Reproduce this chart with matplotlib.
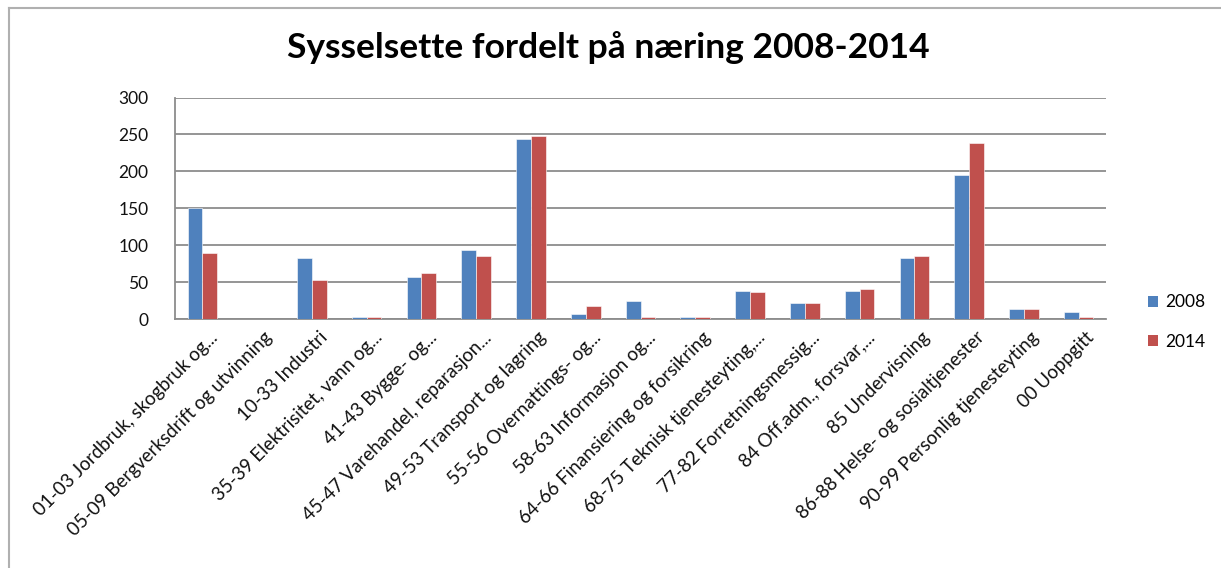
import matplotlib
matplotlib.use("Agg")
import matplotlib.pyplot as plt
import numpy as np
from matplotlib.lines import Line2D
from matplotlib.patches import Patch

categories = [
    "01-03 Jordbruk, skogbruk og...",
    "05-09 Bergverksdrift og utvinning",
    "10-33 Industri",
    "35-39 Elektrisitet, vann og...",
    "41-43 Bygge- og...",
    "45-47 Varehandel, reparasjon...",
    "49-53 Transport og lagring",
    "55-56 Overnattings- og...",
    "58-63 Informasjon og...",
    "64-66 Finansiering og forsikring",
    "68-75 Teknisk tjenesteyting,...",
    "77-82 Forretningsmessig...",
    "84 Off.adm., forsvar,...",
    "85 Undervisning",
    "86-88 Helse- og sosialtjenester",
    "90-99 Personlig tjenesteyting",
    "00 Uoppgitt",
]
values_2008 = [151, 0, 82, 3, 57, 93, 244, 7, 25, 3, 38, 21, 38, 82, 195, 14, 10]
values_2014 = [90, 0, 53, 3, 62, 86, 248, 18, 3, 3, 36, 22, 40, 86, 239, 14, 3]
series_labels = ["2008", "2014"]
yticks = [0, 50, 100, 150, 200, 250, 300]
title = "Sysselsette fordelt på næring 2008-2014"

BLUE = "#4F81BD"
RED = "#C0504D"
GRID = "#8C8C8C"
FONT = "Lato"

W, H = 1221, 568
fig = plt.figure(figsize=(W / 100, H / 100), dpi=100)
fig.patch.set_facecolor("white")

ax = fig.add_axes([175 / W, 1 - 319 / H, (1106 - 175) / W, (319 - 97.5) / H])
x = np.arange(len(categories))
bw = 0.27
ax.bar(x - bw / 2, values_2008, bw, color=BLUE, edgecolor="white", linewidth=0.4, zorder=3)
ax.bar(x + bw / 2, values_2014, bw, color=RED, edgecolor="white", linewidth=0.4, zorder=3)

ax.set_xlim(-0.5, len(categories) - 0.5)
ax.set_ylim(0, 300)
ax.set_yticks(yticks)
ax.set_yticklabels([str(v) for v in yticks], fontsize=12.5, family=FONT, color="#111111")
ax.yaxis.grid(True, color=GRID, linewidth=1.3, zorder=0)
ax.set_axisbelow(True)
ax.tick_params(axis="y", length=0, pad=19)
ax.tick_params(axis="x", length=0, pad=7)
ax.set_xticks(x + 0.12)
ax.set_xticklabels(categories, rotation=45, ha="right", va="top",
                   rotation_mode="anchor", fontsize=13.5, family=FONT, color="#111111")
for s in ["top", "right"]:
    ax.spines[s].set_visible(False)
ax.spines["left"].set_color(GRID)
ax.spines["left"].set_linewidth(1.3)
ax.spines["bottom"].set_color(GRID)
ax.spines["bottom"].set_linewidth(1.3)

fig.text(608 / W, 1 - 48 / H, title, ha="center", va="center",
         fontsize=25.5, fontweight="bold", family=FONT, color="black")

handles = [Patch(facecolor=BLUE, edgecolor="none"), Patch(facecolor=RED, edgecolor="none")]
fig.legend(handles, series_labels, loc="center left", bbox_to_anchor=(1132 / W, 1 - 322 / H),
           frameon=False, prop={"family": FONT, "size": 12.5},
           handlelength=0.6, handleheight=0.6, handletextpad=0.4, labelspacing=1.35)

# outer chart border (left and top edges visible)
fig.add_artist(Line2D([9 / W, 9 / W], [-0.05, 1 - 8 / H], transform=fig.transFigure,
                      color="#B0B0B0", linewidth=1.5))
fig.add_artist(Line2D([9 / W, 1.05], [1 - 8 / H, 1 - 8 / H], transform=fig.transFigure,
                      color="#B0B0B0", linewidth=1.5))

fig.savefig("out.png", dpi=100, facecolor="white")
